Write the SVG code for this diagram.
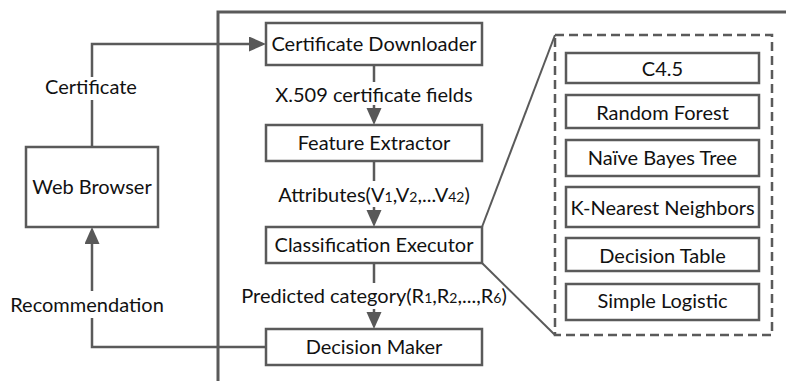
<svg xmlns="http://www.w3.org/2000/svg" width="786" height="381" viewBox="0 0 786 381">
  <defs>
    <marker id="arrow" markerUnits="userSpaceOnUse" markerWidth="18" markerHeight="16" refX="0" refY="7.5" orient="auto">
      <path d="M0,0 L17,7.5 L0,15 Z" fill="#585858"/>
    </marker>
    <style>
      .box { fill: #ffffff; stroke: #5a5a5a; stroke-width: 2.5; }
      .line { fill: none; stroke: #5a5a5a; stroke-width: 2.5; }
      .thin { fill: none; stroke: #5a5a5a; stroke-width: 2; }
      .dash { fill: none; stroke: #5a5a5a; stroke-width: 2.5; stroke-dasharray: 9 5; }
      text { font-family: Lato, "Open Sans", sans-serif; font-size: 20px; fill: #111111; text-anchor: middle; }
      .sub { font-size: 14px; }
    </style>
  </defs>

  <rect width="786" height="381" fill="#ffffff"/>

  <!-- system frame -->
  <path class="line" d="M218,381 V12 H786" style="stroke-width:3"/>

  <!-- connectors -->
  <g id="connectors">
    <!-- browser to downloader -->
    <path class="line" d="M92,147 V100"/>
    <path class="line" d="M92,77 V44 H249" marker-end="url(#arrow)"/>
    <!-- pipeline -->
    <path class="line" d="M374,65 V82"/>
    <path class="line" d="M374,105 V108" marker-end="url(#arrow)"/>
    <path class="line" d="M374,161 V181"/>
    <path class="line" d="M374,207 V210" marker-end="url(#arrow)"/>
    <path class="line" d="M374,263 V283"/>
    <path class="line" d="M374,309 V312" marker-end="url(#arrow)"/>
    <!-- decision back to browser -->
    <path class="line" d="M266,347 H92 V318"/>
    <path class="line" d="M92,291 V244" marker-end="url(#arrow)"/>
    <!-- zoom lines to classifier set -->
    <path class="thin" d="M482,227 L555,35"/>
    <path class="thin" d="M482,263 L555,335"/>
  </g>

  <!-- connector labels -->
  <g id="labels">
    <text x="91" y="94">Certificate</text>
    <text x="87" y="312">Recommendation</text>
    <text x="374" y="102">X.509 certificate fields</text>
    <text x="374" y="202">Attributes(V<tspan class="sub">1</tspan>,V<tspan class="sub">2</tspan>,...V<tspan class="sub">42</tspan>)</text>
    <text x="374" y="303">Predicted category(R<tspan class="sub">1</tspan>,R<tspan class="sub">2</tspan>,...,R<tspan class="sub">6</tspan>)</text>
  </g>

  <g id="web-browser">
    <rect class="box" x="26" y="147" width="132" height="80"/>
    <text x="92" y="194">Web Browser</text>
  </g>

  <g id="certificate-downloader">
    <rect class="box" x="266" y="23" width="216" height="42"/>
    <text x="374" y="51">Certificate Downloader</text>
  </g>

  <g id="feature-extractor">
    <rect class="box" x="266" y="125" width="216" height="36"/>
    <text x="374" y="150">Feature Extractor</text>
  </g>

  <g id="classification-executor">
    <rect class="box" x="266" y="227" width="216" height="36"/>
    <text x="374" y="252">Classification Executor</text>
  </g>

  <g id="decision-maker">
    <rect class="box" x="266" y="329" width="216" height="36"/>
    <text x="374" y="354">Decision Maker</text>
  </g>

  <g id="classifiers">
    <rect class="dash" x="555" y="35" width="217" height="300"/>
    <g id="c45">
      <rect class="box" x="566" y="53" width="193" height="30"/>
      <text x="662.5" y="76">C4.5</text>
    </g>
    <g id="random-forest">
      <rect class="box" x="566" y="95" width="193" height="33"/>
      <text x="662.5" y="120">Random Forest</text>
    </g>
    <g id="naive-bayes-tree">
      <rect class="box" x="566" y="140" width="193" height="36"/>
      <text x="662.5" y="165">Naïve Bayes Tree</text>
    </g>
    <g id="k-nearest-neighbors">
      <rect class="box" x="566" y="187" width="193" height="40"/>
      <text x="662.5" y="215">K-Nearest Neighbors</text>
    </g>
    <g id="decision-table">
      <rect class="box" x="566" y="238" width="193" height="33"/>
      <text x="662.5" y="263">Decision Table</text>
    </g>
    <g id="simple-logistic">
      <rect class="box" x="566" y="284" width="193" height="36"/>
      <text x="662.5" y="308">Simple Logistic</text>
    </g>
  </g>
</svg>
